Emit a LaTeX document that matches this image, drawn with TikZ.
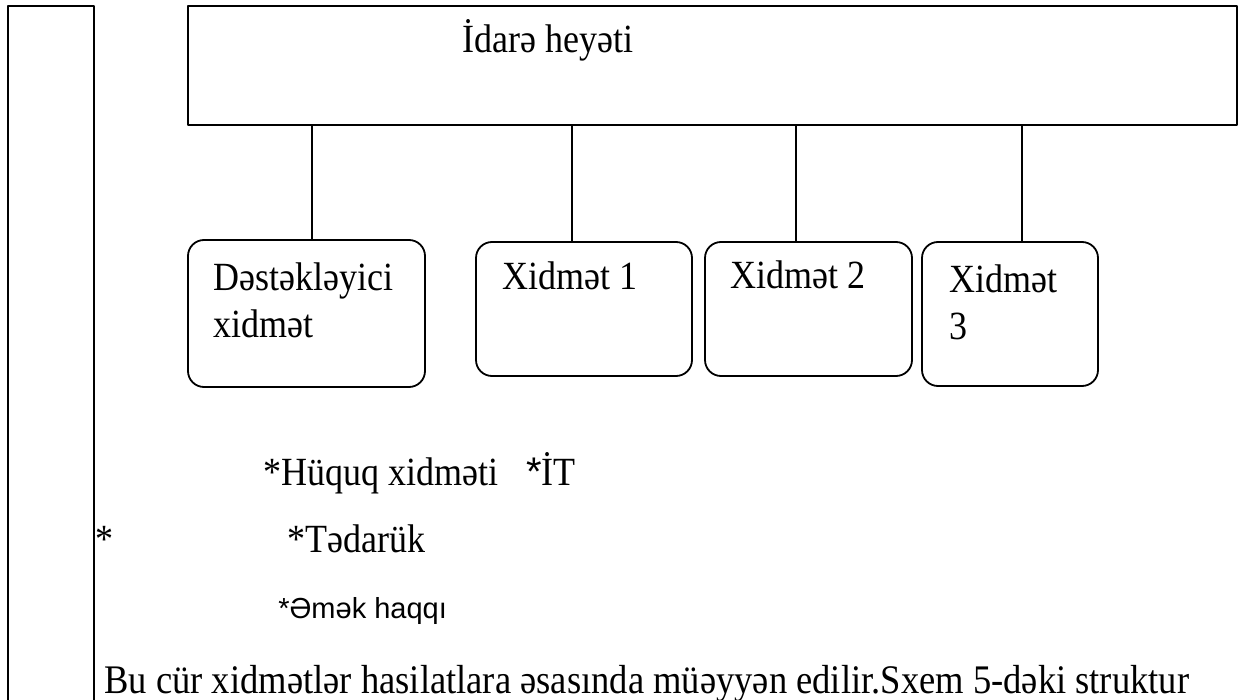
\documentclass[tikz,border=0pt]{standalone}
\usepackage{fontspec}
\setmainfont{Liberation Serif}[FakeStretch=0.9]
\newfontfamily\arialfont{Liberation Sans}
\tikzset{
  board/.style={draw,line width=1.2pt,minimum width=524.5pt,minimum height=59.5pt,inner sep=0pt,outer sep=0pt,anchor=north west},
  unit/.style={draw,line width=0.9pt,rounded corners=8pt,inner sep=0pt,outer sep=0pt,anchor=north west},
  lbl/.style={anchor=base west,inner sep=0pt,align=left},
}
\begin{document}
\begin{tikzpicture}[font=\fontsize{20}{24}\selectfont,line join=round,line cap=round,x=0.5pt,y=-0.5pt]
	\def\W{1243}\def\H{700}
	\useasboundingbox (0,0) rectangle (\W,\H);
	\clip (0,0) rectangle (\W,\H);
	\draw[line width=1.2pt] (8,\H) -- (8,6) -- (94,6) -- (94,\H);
	% board and the four services
	\node[board] (idare) at (188,6) {};
	\node[lbl] (idaret) at (462,53) {İdarə heyəti};
	\node[unit,minimum width=118.5pt,minimum height=73.5pt] (dest) at (188,240) {};
	\node[unit,minimum width=108pt,minimum height=67pt] (xid1) at (476,242) {};
	\node[unit,minimum width=103.5pt,minimum height=67pt] (xid2) at (705,242) {};
	\node[unit,minimum width=88pt,minimum height=72pt] (xid3) at (922,242) {};
	\node[lbl] (destt) at (213,338) {Dəstəkləyici\\xidmət};
	\node[lbl] (xid1t) at (502,290) {Xidmət 1};
	\node[lbl] (xid2t) at (730,289) {Xidmət 2};
	\node[lbl] (xid3t) at (949,340) {Xidmət\\3};
	\foreach \n/\x in {dest/312,xid1/572,xid2/796,xid3/1022}
		\draw[line width=0.8pt] (\x,0 |- idare.south) -- (\x,0 |- \n.north);
	% list under the chart
	\node[lbl] (huquq) at (263,485) {*Hüquq xidməti\hspace{14pt}{\arialfont *}İT};
	\node[lbl] (star) at (95,552) {*};
	\node[lbl] (tedaruk) at (287,552) {*Tədarük};
	\node[lbl,font=\arialfont\fontsize{14.5}{17}\selectfont] (emek) at (278,618) {*Əmək haqqı};
	\node[lbl,font=\fontsize{20.3}{24}\selectfont] (text) at (104,693) {Bu cür xidmətlər hasilatlara əsasında müəyyən edilir.Sxem 5-dəki struktur};
\end{tikzpicture}
\end{document}
